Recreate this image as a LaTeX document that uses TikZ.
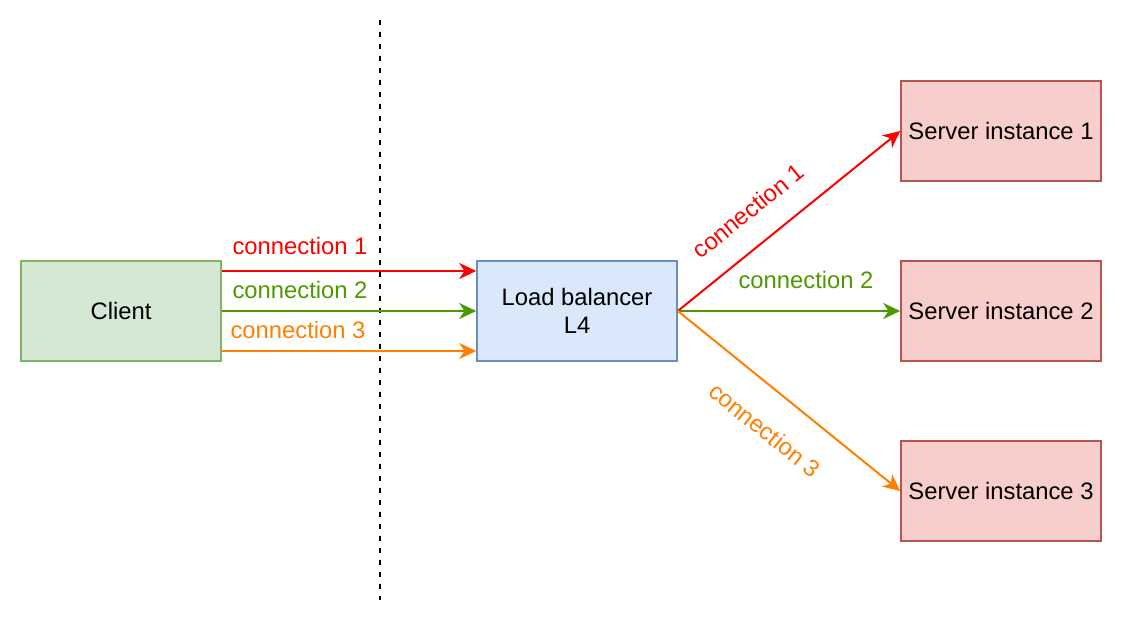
\documentclass[tikz,border=0pt]{standalone}
\usepackage{fontspec}
\setmainfont{Liberation Sans}
\usetikzlibrary{arrows.meta}
\definecolor{cred}{HTML}{FF0000}
\definecolor{cgreen}{HTML}{4D9900}
\definecolor{corange}{HTML}{FF8000}
\definecolor{clientfill}{HTML}{D5E8D4}
\definecolor{clientdraw}{HTML}{82B366}
\definecolor{lbfill}{HTML}{DAE8FC}
\definecolor{lbdraw}{HTML}{6C8EBF}
\definecolor{srvfill}{HTML}{F8CECC}
\definecolor{srvdraw}{HTML}{B85450}
\tikzset{
  box/.style={rectangle, minimum width=100pt, minimum height=50pt, inner sep=0pt, line width=0.8pt, align=center, font=\fontsize{11.9}{14}\selectfont},
  clientbox/.style={box, fill=clientfill, draw=clientdraw},
  lbbox/.style={box, fill=lbfill, draw=lbdraw},
  srvbox/.style={box, fill=srvfill, draw=srvdraw},
  conn/.style={line width=1pt, -{Stealth[length=8.5pt, width=8pt, inset=2.6pt]}},
  lbl/.style={inner sep=0pt, font=\fontsize{11.9}{14}\selectfont},
}
\begin{document}
\begin{tikzpicture}[x=0.5pt, y=-0.5pt]
\useasboundingbox (0,0) rectangle (1122,624);
\node[clientbox] (client) at (121,311) {Client};
\node[lbbox] (lb) at (577,311) {Load balancer\\L4};
\node[srvbox] (s1) at (1001,131) {Server instance 1};
\node[srvbox] (s2) at (1001,311) {Server instance 2};
\node[srvbox] (s3) at (1001,491) {Server instance 3};
\coordinate (dtop) at (380,20);
\coordinate (dbot) at (380,600);
\draw[line width=1pt, dash pattern=on 2.5pt off 3.5pt] (dtop) -- (dbot);
\draw[conn, cred] ([yshift=20pt]client.east) -- ([yshift=20pt]lb.west);
\draw[conn, cgreen] (client.east) -- (lb.west);
\draw[conn, corange] ([yshift=-20pt]client.east) -- ([yshift=-20pt]lb.west);
\node[lbl, text=cred] (l1) at (300,246) {connection 1};
\node[lbl, text=cgreen] (l2) at (300,290) {connection 2};
\node[lbl, text=corange] (l3) at (298,330) {connection 3};
\draw[conn, cred] (lb.east) -- (s1.west);
\draw[conn, cgreen] (lb.east) -- (s2.west);
\draw[conn, corange] (lb.east) -- (s3.west);
\node[lbl, text=cred, rotate=38.8] (r1) at (748,211) {connection 1};
\node[lbl, text=cgreen] (r2) at (806,280) {connection 2};
\node[lbl, text=corange, rotate=-38.8] (r3) at (765,430) {connection 3};
\end{tikzpicture}
\end{document}
